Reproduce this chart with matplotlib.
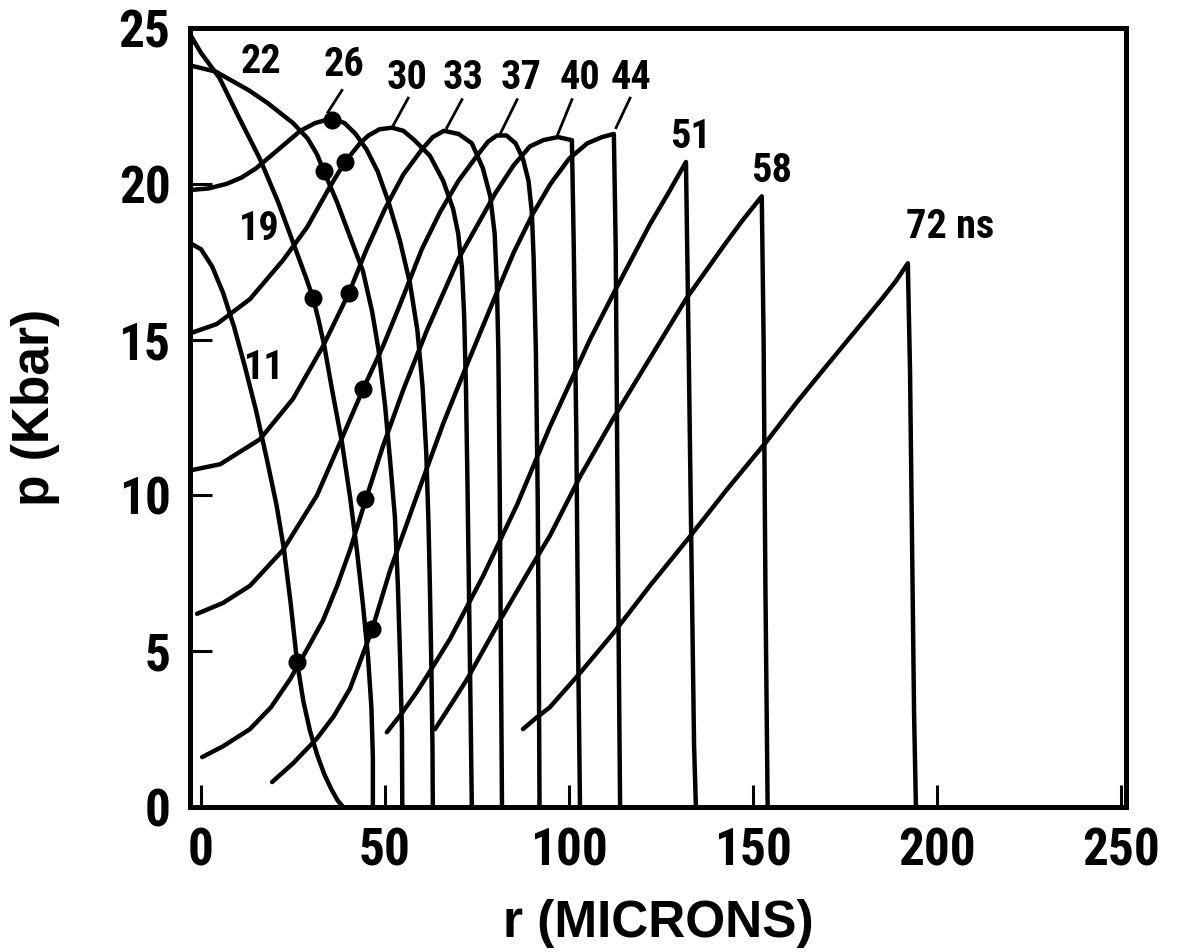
import numpy as np
import matplotlib
matplotlib.use("Agg")
import matplotlib.pyplot as plt

# pressure profiles p (Kbar) vs r (microns), one per time (ns)
r_11 = [-3, 0, 3, 6, 9, 12, 15, 18, 20.5, 22.5, 24.3, 26.1, 27.8, 29.6, 31.5, 33.5, 35.5, 37.2, 38.6]
p_11 = [18.1, 17.9, 17.35, 16.5, 15.4, 14.1, 12.7, 11.1, 9.7, 8.3, 6.6, 4.65, 3.4, 2.45, 1.7, 1.05, 0.55, 0.2, 0]

r_19 = [-3, 0, 5, 10, 16, 21, 26, 28.5, 30.4, 32, 33.5, 35.6, 38.3, 40.5, 42.4, 44, 45.4, 46.3, 46.7, 46.7]
p_19 = [24.8, 24.2, 23.4, 22.2, 20.8, 19.4, 17.8, 17.0, 16.35, 15.6, 14.8, 13.4, 11.7, 9.95, 8.2, 6.5, 4.8, 3.2, 1.6, 0]

r_22 = [-3, 4, 13, 18, 25, 29, 31.5, 33.4, 37, 40.5, 44, 46.5, 48.2, 50, 51.4, 52.7, 53.5, 54.1, 54.6, 54.7]
p_22 = [23.8, 23.6, 23.0, 22.6, 21.95, 21.45, 20.95, 20.4, 19.4, 18.3, 17.2, 15.9, 14.7, 12.9, 11.1, 9.3, 7.1, 4.8, 2.5, 0]

r_26 = [-3, 2, 7, 11, 15, 19, 23, 27, 31, 35.6, 39, 42, 45, 48, 51, 54, 56.8, 58.8, 60.2, 61.2, 61.8, 62.2, 62.6, 62.9, 63]
p_26 = [19.8, 19.85, 20.0, 20.2, 20.5, 20.9, 21.3, 21.7, 21.95, 22.1, 21.95, 21.6, 21.1, 20.4, 19.4, 18.2, 16.8, 15.3, 13.5, 11.4, 9.2, 7.1, 4.5, 2.0, 0]

r_30 = [-3, 4.3, 13.3, 22.3, 28.8, 35, 39.1, 43.2, 45.5, 48.5, 51.9, 55, 58, 62.2, 65.8, 68.5, 69.9, 70.9, 71.5, 72, 72.4, 72.8, 73.2, 73.6]
p_30 = [15.2, 15.5, 16.3, 17.55, 18.6, 19.9, 20.7, 21.3, 21.55, 21.75, 21.8, 21.7, 21.4, 20.9, 20.1, 19.2, 18.4, 17.3, 15.8, 13.5, 10.5, 7.1, 3.6, 0]

r_33 = [-3, 5.2, 16, 25, 33.2, 40.2, 45, 50, 55, 60, 63, 66, 70, 73.6, 76.6, 78.6, 79.8, 80.4, 80.8, 81.2, 81.5, 81.8]
p_33 = [10.8, 11.0, 11.8, 13.1, 14.8, 16.5, 17.9, 19.2, 20.3, 21.1, 21.5, 21.7, 21.6, 21.3, 20.5, 19.6, 18.4, 16.8, 14.7, 10, 5, 0]

r_37 = [-1.1, 6, 13.3, 22.3, 31.5, 37.8, 44, 49.5, 54, 60, 65, 70, 75, 78, 80.4, 83, 85.5, 87.5, 89, 89.9, 90.4, 91, 91.5, 91.8, 92]
p_37 = [6.2, 6.55, 7.1, 8.25, 10.0, 11.7, 13.4, 14.8, 16.1, 17.9, 19.1, 20.1, 20.9, 21.35, 21.55, 21.55, 21.3, 20.8, 20.1, 19.1, 17.6, 14.7, 10, 5, 0]

r_40 = [0.3, 6, 13.3, 19, 24.2, 29, 33.2, 37, 40.5, 44.6, 49.5, 55, 61.4, 70, 80, 85, 89.4, 93, 97, 100.8, 101.3, 102, 102.5, 103]
p_40 = [1.6, 1.95, 2.5, 3.2, 4.1, 5.1, 6.0, 7.1, 8.25, 9.8, 11.6, 13.4, 15.3, 17.6, 19.7, 20.6, 21.2, 21.4, 21.5, 21.4, 18, 12, 5, 0]

r_44 = [19.3, 25, 31.5, 36, 40.5, 46.5, 51.4, 58.7, 65.8, 72.3, 79.3, 85, 90, 95, 100, 105, 109, 112.2, 112.7, 113.2, 113.6, 113.9]
p_44 = [0.8, 1.4, 2.2, 2.9, 3.8, 5.7, 7.6, 10.0, 12.3, 14.2, 16.2, 17.8, 19.0, 20.0, 20.8, 21.3, 21.5, 21.6, 18, 10, 4, 0]

r_51 = [50.5, 54.5, 58.7, 63, 67.7, 76.6, 85.9, 94.8, 105.7, 112.2, 122, 127, 131.8, 132.5, 133.3, 134, 134.5]
p_51 = [2.4, 3.0, 3.7, 4.5, 5.4, 7.4, 9.7, 12.2, 15.0, 16.5, 18.7, 19.7, 20.7, 15, 8, 2, 0]

r_58 = [63.6, 68, 72.3, 81.3, 90.2, 94.8, 103, 112.2, 122, 131.8, 142, 147, 152.4, 152.9, 153.4, 154]
p_58 = [2.5, 3.3, 4.1, 6.0, 7.8, 8.7, 10.6, 12.5, 14.4, 16.3, 18.0, 18.8, 19.6, 15, 7, 0]

r_72 = [87.5, 91, 94.8, 103, 112.2, 122, 133, 143, 153.5, 162, 171, 178, 185, 189, 192.1, 192.7, 193.3, 193.8, 194.3]
p_72 = [2.5, 2.85, 3.2, 4.3, 5.6, 7.1, 8.7, 10.2, 11.7, 13.0, 14.3, 15.3, 16.3, 16.9, 17.45, 14, 8, 3, 0]

# marked points on the profiles
dot_r = [35.6, 33.4, 39.1, 30.4, 40.2, 44.0, 44.6, 46.5, 26.1]
dot_p = [22.05, 20.4, 20.7, 16.35, 16.5, 13.4, 9.9, 5.7, 4.65]

# time labels and their positions
label_text = ["22", "26", "30", "33", "37", "40", "44", "51", "58", "19", "11"]
label_r = [16.3, 38.9, 56.0, 71.2, 87.0, 103.0, 116.8, 132.9, 155.2, 15.8, 17.1]
label_p = [23.9, 23.8, 23.4, 23.4, 23.4, 23.4, 23.4, 21.5, 20.4, 18.55, 14.1]

# leader lines from label to curve
lead_r0 = [38.3, 56.3, 70.9, 85.9, 100.8, 116.6]
lead_p0 = [23.0, 22.75, 22.7, 22.7, 22.7, 22.75]
lead_r1 = [34.5, 51.9, 66.8, 81.3, 97.0, 112.8]
lead_p1 = [22.3, 21.8, 21.8, 21.6, 21.6, 21.8]

x_ticks = [0, 50, 100, 150, 200, 250]
y_ticks = [0, 5, 10, 15, 20, 25]

narrow = ["Liberation Sans Narrow", "Roboto Condensed", "IBM Plex Sans Condensed", "Liberation Sans", "DejaVu Sans"]
wide = ["Liberation Sans", "DejaVu Sans"]
plt.rcParams["font.family"] = narrow
plt.rcParams["font.weight"] = "bold"

fig = plt.figure(figsize=(11.77, 9.52), dpi=100)
ax = fig.add_axes([190 / 1177, 145 / 952, 936 / 1177, 779 / 952])

curves = [(r_11, p_11), (r_19, p_19), (r_22, p_22), (r_26, p_26), (r_30, p_30),
          (r_33, p_33), (r_37, p_37), (r_40, p_40), (r_44, p_44), (r_51, p_51),
          (r_58, p_58), (r_72, p_72)]
for r, p in curves:
    ax.plot(r, p, color="black", lw=3.2, solid_capstyle="round", solid_joinstyle="round")

ax.plot(dot_r, dot_p, "o", color="black", ms=12)

for i in range(len(lead_r0)):
    ax.plot([lead_r0[i], lead_r1[i]], [lead_p0[i], lead_p1[i]], color="black", lw=2.0)

for txt, x, y in zip(label_text, label_r, label_p):
    ax.text(x, y, txt, fontsize=29, fontweight="bold", ha="center", va="center")
ax.text(191.5, 18.6, "72 ns", fontsize=29, fontweight="bold", ha="left", va="center")

ax.set_xlim(-3, 251.4)
ax.set_ylim(0, 25)
ax.set_xticks(x_ticks)
ax.set_yticks(y_ticks)
ax.tick_params(direction="in", length=16, width=2.2, labelsize=37, pad=14,
               top=False, right=False)
for lab in ax.get_xticklabels() + ax.get_yticklabels():
    lab.set_fontweight("bold")
for s in ax.spines.values():
    s.set_linewidth(3.6)

ax.set_xlabel("r (MICRONS)", fontsize=37, fontweight="bold", family=wide)
ax.xaxis.set_label_coords(0.5, (807 - 924) / 779)
ax.xaxis.label.set_va("center")
ax.set_ylabel("p (Kbar)", fontsize=37, fontweight="bold", family=wide)
ax.yaxis.set_label_coords((36 - 190) / 936, (807 - 407) / 779)
ax.yaxis.label.set_va("center")

plt.savefig("out.png", dpi=100)
